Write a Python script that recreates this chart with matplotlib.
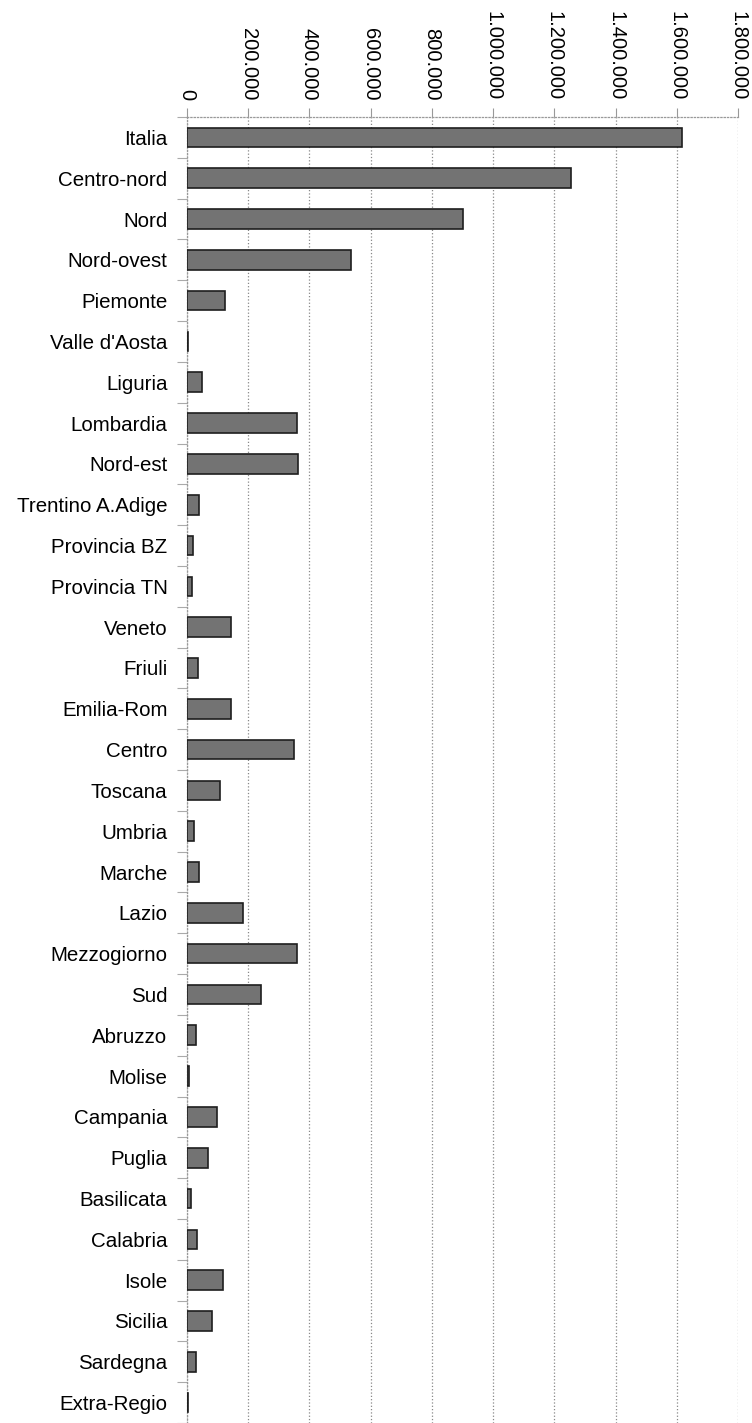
import matplotlib.pyplot as plt
import matplotlib.ticker as mticker
import numpy as np

plt.rcParams['font.family'] = ['Liberation Sans', 'DejaVu Sans']

regions = ['Italia', 'Centro-nord', 'Nord', 'Nord-ovest', 'Piemonte',
           "Valle d'Aosta", 'Liguria', 'Lombardia', 'Nord-est',
           'Trentino A.Adige', 'Provincia BZ', 'Provincia TN', 'Veneto',
           'Friuli', 'Emilia-Rom', 'Centro', 'Toscana', 'Umbria', 'Marche',
           'Lazio', 'Mezzogiorno', 'Sud', 'Abruzzo', 'Molise', 'Campania',
           'Puglia', 'Basilicata', 'Calabria', 'Isole', 'Sicilia',
           'Sardegna', 'Extra-Regio']
values = [1616000, 1254000, 902000, 536000, 124000,
          3500, 48000, 358000, 364000,
          38000, 19500, 17000, 144000,
          34500, 143000, 351000, 108000, 23000, 40000,
          184000, 358000, 243000, 30000, 7500, 99000,
          68000, 13000, 32000, 118000, 83000,
          31000, 2000]
xticks = np.arange(0, 1800001, 200000)

fig = plt.figure(figsize=(7.52, 14.23), dpi=100)
ax = fig.add_axes([187/752, 0.0, (738-187)/752, 1-117/1423])

y = np.arange(len(regions))
ax.barh(y, values, height=0.48, color='#737373', edgecolor='#1e1e1e',
        linewidth=1.2, zorder=3)

ax.set_xlim(0, 1800000)
ax.set_ylim(len(regions)-0.5, -0.5)
ax.set_yticks(y)
ax.set_yticklabels(regions, fontsize=14.8)
ax.set_yticks(np.arange(-0.5, len(regions)), minor=True)

ax.xaxis.tick_top()
ax.set_xticks(xticks)
ax.xaxis.set_major_formatter(mticker.FuncFormatter(
    lambda v, p: f'{int(v):,}'.replace(',', '.')))
ax.tick_params(axis='x', labelsize=14.5, labelrotation=-90, length=6.5,
               width=0.8, color='#999999', pad=5.5)
ax.tick_params(axis='y', which='major', length=0, pad=14)
ax.tick_params(axis='y', which='minor', length=7, width=0.8, color='#aaaaaa')

ax.grid(axis='x', linestyle=':', color='#888888', linewidth=0.9, zorder=0)
for s in ['right', 'bottom']:
    ax.spines[s].set_visible(False)
for s in ['top', 'left']:
    ax.spines[s].set_color('#999999')
    ax.spines[s].set_linestyle(':')
    ax.spines[s].set_linewidth(0.9)

plt.savefig('out.png', dpi=100)
